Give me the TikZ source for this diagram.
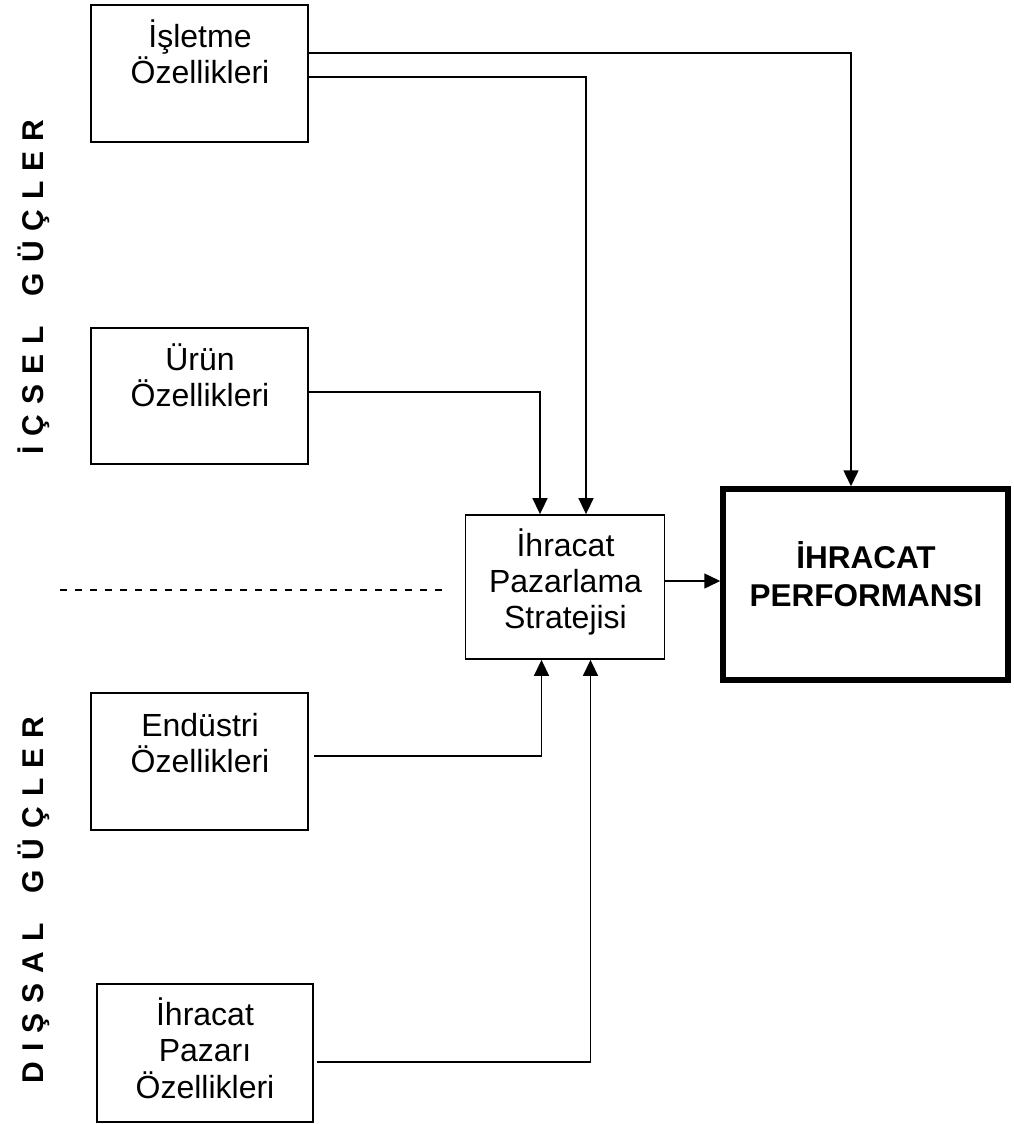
\documentclass[tikz,border=0pt]{standalone}
\usepackage{fontspec}
\setmainfont{Liberation Sans}
\usetikzlibrary{arrows.meta}
\newcommand\lsp{\kern10pt}
\newcommand\wsp{\kern30pt}
\begin{document}
\begin{tikzpicture}[x=1pt,y=-1pt,
  box/.style={draw, line width=1.8pt, inner sep=0pt, minimum width=217pt, minimum height=137pt},
  mainbox/.style={draw, line width=5.5pt, inner sep=0pt, minimum width=285pt, minimum height=191pt},
  txt/.style={align=center, inner sep=0pt, anchor=north, font=\fontsize{32}{36.5}\selectfont},
  side/.style={rotate=90, anchor=base, inner sep=0pt, font=\fontsize{30}{36}\selectfont\bfseries},
  conn/.style={line width=1.5pt, -{Triangle[length=16pt,width=15pt]}},
  link/.style={line width=1.5pt}
]
\useasboundingbox (0,0) rectangle (1013,1124);

% input boxes
\node[box] (isl) at (199.5,73.5) {};
\node[box, minimum height=136pt] (urun) at (199.5,396) {};
\node[box] (endu) at (199.5,761.5) {};
\node[box, minimum width=216pt, minimum height=138pt] (pazar) at (205,1053) {};

% strategy and outcome boxes
\node[box, minimum width=199pt, minimum height=144pt] (strat) at (565,587) {};
\node[mainbox] (perf) at (865.5,584.5) {};

% box labels
\node[txt] (islT) at (200,16) {\rule{0pt}{31pt}İşletme\\Özellikleri};
\node[txt] (urunT) at (200,339) {\rule{0pt}{31pt}Ürün\\Özellikleri};
\node[txt] (enduT) at (200,705) {\rule{0pt}{31pt}Endüstri\\Özellikleri};
\node[txt] (pazarT) at (205,994) {\rule{0pt}{31pt}İhracat\\Pazarı\\Özellikleri};
\node[txt, font=\fontsize{32}{36}\selectfont] (stratT) at (565.5,525) {\rule{0pt}{31pt}İhracat\\Pazarlama\\Stratejisi};
\node[txt, font=\fontsize{31.5}{38}\selectfont\bfseries] (perfT) at (866,537) {\rule{0pt}{31pt}İHRACAT\\PERFORMANSI};

% side captions
\node[side] (ic) at (43,287) {İ\lsp Ç\lsp S\lsp E\lsp L\wsp G\lsp Ü\lsp Ç\lsp L\lsp E\lsp R};
\node[side] (dis) at (43,900) {D\lsp I\lsp Ş\lsp S\lsp A\lsp L\wsp G\lsp Ü\lsp Ç\lsp L\lsp E\lsp R};

% divider between internal and external forces
\coordinate (dashL) at (60,590);
\coordinate (dashR) at (445,590);
\draw[line width=2pt, dash pattern=on 7pt off 8pt] (dashL) -- (dashR);

% connectors
\draw[conn] ([yshift=20.5pt]isl.east) -| ([xshift=-14.5pt]perf.north);
\draw[conn] ([yshift=-3.5pt]isl.east) -| ([xshift=21pt]strat.north);
\draw[conn] ([yshift=4pt]urun.east) -| ([xshift=-25pt]strat.north);
\draw[conn] ([xshift=5pt,yshift=5.5pt]endu.east) -| ([xshift=-23.5pt]strat.south);
\draw[conn] ([xshift=3pt,yshift=-9pt]pazar.east) -| ([xshift=25.5pt]strat.south);
\draw[conn] ([yshift=6pt]strat.east) -- ([yshift=6pt]strat.east -| perf.west);
\end{tikzpicture}
\end{document}
